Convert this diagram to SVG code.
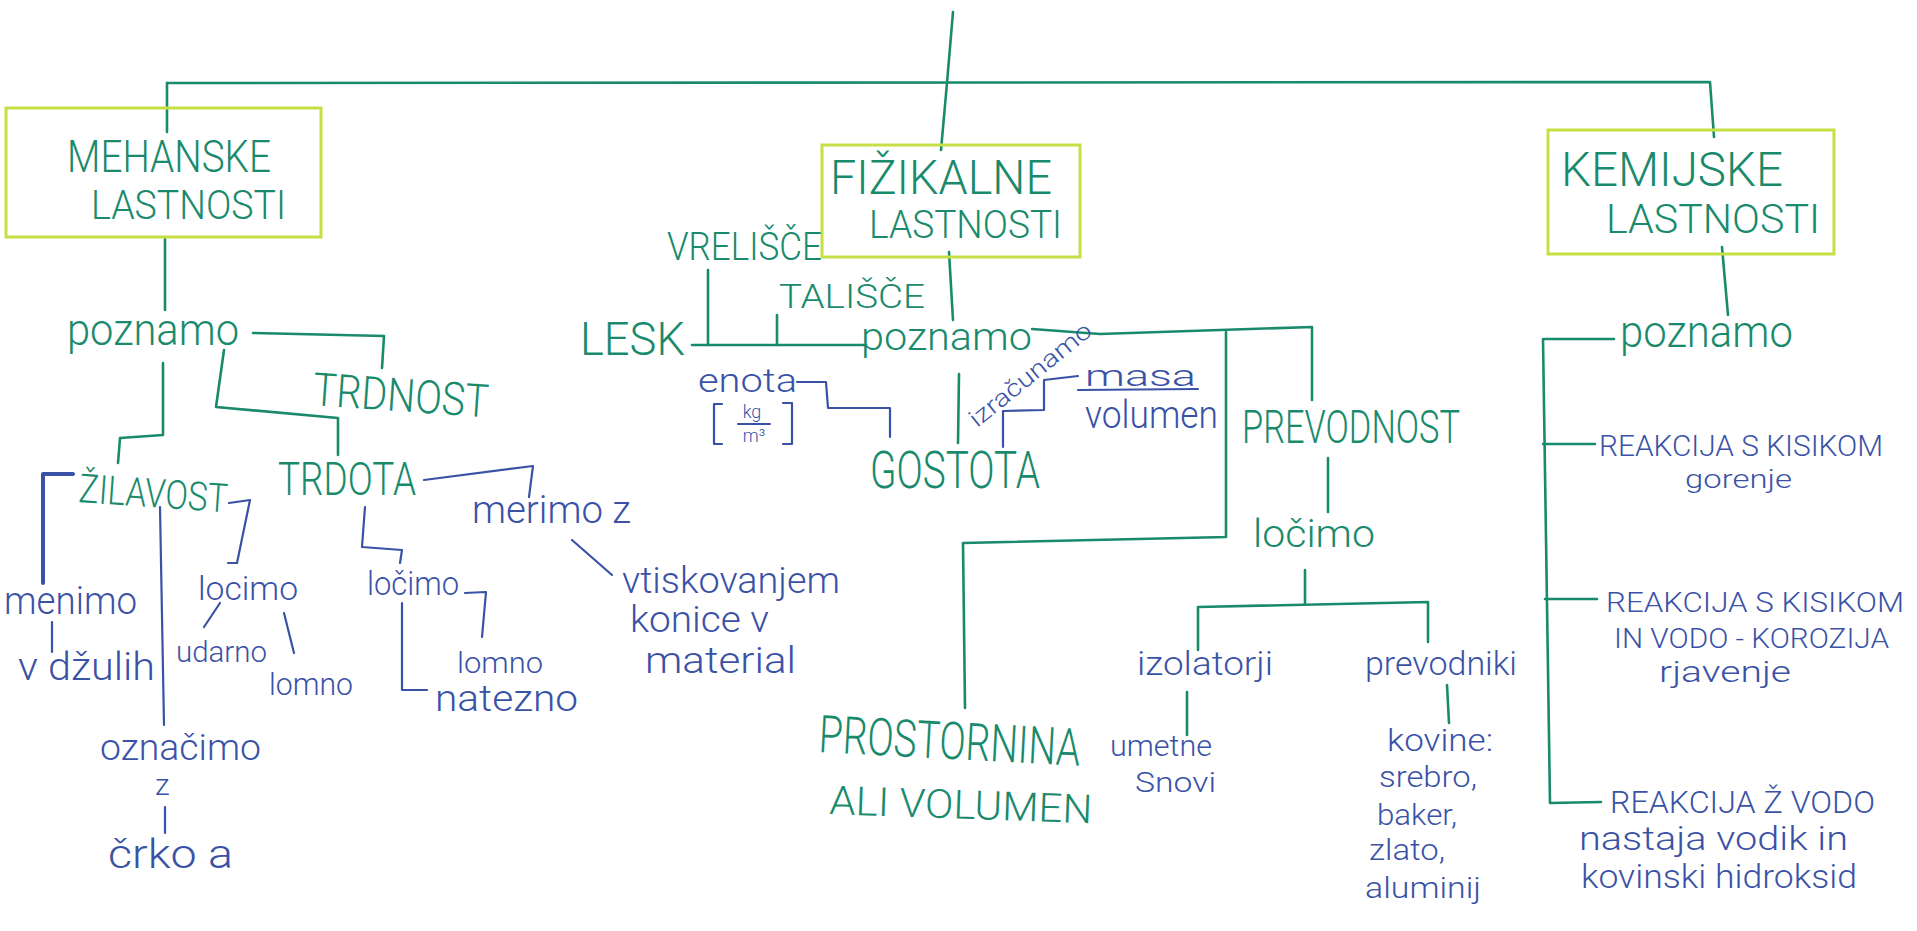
<svg xmlns="http://www.w3.org/2000/svg" width="1917" height="931" viewBox="0 0 1917 931">
<style>
.g{fill:#1a8a6c;font-family:Roboto,"Liberation Sans",sans-serif;font-weight:300}
.b{fill:#3a52a6;font-family:Roboto,"Liberation Sans",sans-serif;font-weight:300}
.box{fill:none;stroke:#c5df45;stroke-width:3}
.cg{fill:none;stroke:#1a8a6c;stroke-width:2.6;stroke-linejoin:round;stroke-linecap:round}
.cb{fill:none;stroke:#3a52a6;stroke-width:2.2;stroke-linejoin:round;stroke-linecap:round}
</style>
<rect width="1917" height="931" fill="#ffffff"/>
<g id="connectors">
<path class="cg" d="M953,12 L947,83 L941,150"/>
<path class="cg" d="M167,83 L1710,82 L1714,137"/>
<path class="cg" d="M167,83 L167,132"/>
<path class="cg" d="M165,237 L165,310"/>
<path class="cg" d="M253,333 L384,336 L382,368"/>
<path class="cg" d="M224,350 L216,407 L338,418 L338,455"/>
<path class="cg" d="M163,363 L163,435 L120,438 L118,463"/>
<path class="cg" d="M949,252 L953,320"/>
<path class="cg" d="M692,345 L866,345"/>
<path class="cg" d="M708,345 L708,270"/>
<path class="cg" d="M777,345 L777,315"/>
<path class="cg" d="M959,374 L958,443"/>
<path class="cg" d="M1032,329 L1100,334 L1312,327 L1312,400"/>
<path class="cg" d="M1226,332 L1226,537 L963,543 L965,708"/>
<path class="cg" d="M1328,458 L1328,512"/>
<path class="cg" d="M1305,570 L1305,604"/>
<path class="cg" d="M1198,650 L1198,607 L1428,602 L1428,642"/>
<path class="cg" d="M1187,692 L1187,735"/>
<path class="cg" d="M1447,685 L1449,723"/>
<path class="cg" d="M1722,247 L1728,315"/>
<path class="cg" d="M1614,339 L1543,339 L1550,803 L1601,802"/>
<path class="cg" d="M1543,444 L1595,444"/>
<path class="cg" d="M1545,599 L1597,599"/>
<path class="cb" d="M797,382 L826,382 L828,408 L890,408 L890,437"/>
<path class="cb" d="M1003,447 L1003,411 L1044,410 L1044,380 L1078,376"/>
<path class="cb" style="stroke-width:4" d="M73,474 L43,474 L43,583"/>
<path class="cb" d="M52,622 L52,652"/>
<path class="cb" d="M160,507 L164,725"/>
<path class="cb" d="M165,807 L165,833"/>
<path class="cb" d="M229,503 L250,500 L237,563 L228,563"/>
<path class="cb" d="M220,603 L204,627"/>
<path class="cb" d="M284,613 L294,653"/>
<path class="cb" d="M365,507 L362,547 L402,550 L400,563"/>
<path class="cb" d="M465,593 L486,592 L482,637"/>
<path class="cb" d="M402,603 L402,690 L427,690"/>
<path class="cb" d="M424,480 L533,466 L529,497"/>
<path class="cb" d="M572,540 L612,575"/>
</g>
<g id="mehanske">
<rect class="box" x="6" y="108" width="315" height="129"/>
<text class="g" x="67" y="172" font-size="44" textLength="204" lengthAdjust="spacingAndGlyphs">MEHANSKE</text>
<text class="g" x="91" y="219" font-size="40" textLength="195" lengthAdjust="spacingAndGlyphs">LASTNOSTI</text>
</g>
<g id="fizikalne">
<rect class="box" x="822" y="145" width="258" height="112"/>
<text class="g" x="830" y="194" font-size="48" textLength="222" lengthAdjust="spacingAndGlyphs">FIŽIKALNE</text>
<text class="g" x="869" y="238" font-size="38" textLength="193" lengthAdjust="spacingAndGlyphs">LASTNOSTI</text>
</g>
<g id="kemijske">
<rect class="box" x="1548" y="130" width="286" height="124"/>
<text class="g" x="1561" y="186" font-size="48" textLength="222" lengthAdjust="spacingAndGlyphs">KEMIJSKE</text>
<text class="g" x="1606" y="233" font-size="40" textLength="214" lengthAdjust="spacingAndGlyphs">LASTNOSTI</text>
</g>
<g id="poznamo-m"><text class="g" x="67" y="345" font-size="44" textLength="172" lengthAdjust="spacingAndGlyphs">poznamo</text></g>
<g id="trdnost"><text class="g" x="312" y="405" font-size="46" textLength="176" lengthAdjust="spacingAndGlyphs" transform="rotate(4 312 405)">TRDNOST</text></g>
<g id="zilavost"><text class="g" x="78" y="502" font-size="40" textLength="149" lengthAdjust="spacingAndGlyphs" transform="rotate(4 78 502)">ŽILAVOST</text></g>
<g id="trdota"><text class="g" x="278" y="495" font-size="46" textLength="138" lengthAdjust="spacingAndGlyphs">TRDOTA</text></g>
<g id="menimo"><text class="b" x="4" y="614" font-size="38" textLength="133" lengthAdjust="spacingAndGlyphs">menimo</text></g>
<g id="v-dzulih"><text class="b" x="18" y="680" font-size="38" textLength="137" lengthAdjust="spacingAndGlyphs">v džulih</text></g>
<g id="oznacimo"><text class="b" x="100" y="760" font-size="36" textLength="161" lengthAdjust="spacingAndGlyphs">označimo</text></g>
<g id="z"><text class="b" x="155" y="795" font-size="30">z</text></g>
<g id="crko"><text class="b" x="108" y="868" font-size="40" textLength="125" lengthAdjust="spacingAndGlyphs">črko a</text></g>
<g id="locimo-1"><text class="b" x="198" y="600" font-size="34" textLength="100" lengthAdjust="spacingAndGlyphs">locimo</text></g>
<g id="udarno"><text class="b" x="176" y="662" font-size="30" textLength="91" lengthAdjust="spacingAndGlyphs">udarno</text></g>
<g id="lomno-1"><text class="b" x="269" y="695" font-size="32" textLength="84" lengthAdjust="spacingAndGlyphs">lomno</text></g>
<g id="locimo-2"><text class="b" x="367" y="595" font-size="34" textLength="92" lengthAdjust="spacingAndGlyphs">ločimo</text></g>
<g id="lomno-2"><text class="b" x="457" y="673" font-size="30" textLength="86" lengthAdjust="spacingAndGlyphs">lomno</text></g>
<g id="natezno"><text class="b" x="435" y="711" font-size="36" textLength="143" lengthAdjust="spacingAndGlyphs">natezno</text></g>
<g id="merimo"><text class="b" x="472" y="523" font-size="38" textLength="159" lengthAdjust="spacingAndGlyphs">merimo z</text></g>
<g id="vtiskovanjem">
<text class="b" x="622" y="593" font-size="36" textLength="218" lengthAdjust="spacingAndGlyphs">vtiskovanjem</text>
<text class="b" x="630" y="632" font-size="36" textLength="139" lengthAdjust="spacingAndGlyphs">konice v</text>
<text class="b" x="645" y="673" font-size="36" textLength="151" lengthAdjust="spacingAndGlyphs">material</text>
</g>
<g id="vrelisce"><text class="g" x="667" y="260" font-size="38" textLength="155" lengthAdjust="spacingAndGlyphs">VRELIŠČE</text></g>
<g id="talisce"><text class="g" x="779" y="308" font-size="34" textLength="146" lengthAdjust="spacingAndGlyphs">TALIŠČE</text></g>
<g id="lesk"><text class="g" x="580" y="355" font-size="46" textLength="105" lengthAdjust="spacingAndGlyphs">LESK</text></g>
<g id="poznamo-f"><text class="g" x="861" y="350" font-size="38" textLength="171" lengthAdjust="spacingAndGlyphs">poznamo</text></g>
<g id="enota">
<text class="b" x="698" y="392" font-size="34" textLength="99" lengthAdjust="spacingAndGlyphs">enota</text>
<path class="cb" d="M722,404 L714,404 L714,444 L722,444 M783,403 L792,403 L792,444 L783,444 M738,424 L770,424"/>
<text class="b" x="752" y="418" font-size="18" text-anchor="middle">kg</text>
<text class="b" x="754" y="442" font-size="18" text-anchor="middle">m³</text>
</g>
<g id="gostota"><text class="g" x="870" y="488" font-size="52" textLength="170" lengthAdjust="spacingAndGlyphs">GOSTOTA</text></g>
<g id="izracunamo"><text class="b" font-size="24" textLength="150" lengthAdjust="spacingAndGlyphs" transform="translate(977,428) rotate(-39)">izračunamo</text></g>
<g id="masa-volumen">
<text class="b" x="1085" y="386" font-size="30" textLength="111" lengthAdjust="spacingAndGlyphs">masa</text>
<path class="cb" d="M1078,390 L1198,389"/>
<text class="b" x="1085" y="428" font-size="38" textLength="133" lengthAdjust="spacingAndGlyphs">volumen</text>
</g>
<g id="prostornina">
<text class="g" x="818" y="752" font-size="52" textLength="262" lengthAdjust="spacingAndGlyphs" transform="rotate(3 818 752)">PROSTORNINA</text>
<text class="g" x="829" y="814" font-size="40" textLength="263" lengthAdjust="spacingAndGlyphs" transform="rotate(2 829 814)">ALI VOLUMEN</text>
</g>
<g id="prevodnost"><text class="g" x="1242" y="443" font-size="46" textLength="218" lengthAdjust="spacingAndGlyphs">PREVODNOST</text></g>
<g id="locimo-3"><text class="g" x="1253" y="547" font-size="38" textLength="122" lengthAdjust="spacingAndGlyphs">ločimo</text></g>
<g id="izolatorji"><text class="b" x="1137" y="675" font-size="34" textLength="136" lengthAdjust="spacingAndGlyphs">izolatorji</text></g>
<g id="umetne">
<text class="b" x="1110" y="756" font-size="30" textLength="102" lengthAdjust="spacingAndGlyphs">umetne</text>
<text class="b" x="1135" y="792" font-size="28" textLength="81" lengthAdjust="spacingAndGlyphs">Snovi</text>
</g>
<g id="prevodniki"><text class="b" x="1365" y="675" font-size="34" textLength="152" lengthAdjust="spacingAndGlyphs">prevodniki</text></g>
<g id="kovine">
<text class="b" x="1387" y="751" font-size="32" textLength="106" lengthAdjust="spacingAndGlyphs">kovine:</text>
<text class="b" x="1379" y="787" font-size="30" textLength="98" lengthAdjust="spacingAndGlyphs">srebro,</text>
<text class="b" x="1377" y="825" font-size="30" textLength="80" lengthAdjust="spacingAndGlyphs">baker,</text>
<text class="b" x="1369" y="860" font-size="30" textLength="76" lengthAdjust="spacingAndGlyphs">zlato,</text>
<text class="b" x="1365" y="898" font-size="30" textLength="116" lengthAdjust="spacingAndGlyphs">aluminij</text>
</g>
<g id="poznamo-k"><text class="g" x="1620" y="347" font-size="44" textLength="173" lengthAdjust="spacingAndGlyphs">poznamo</text></g>
<g id="reakcija-1">
<text class="b" x="1599" y="456" font-size="30" textLength="284" lengthAdjust="spacingAndGlyphs">REAKCIJA S KISIKOM</text>
<text class="b" x="1685" y="488" font-size="26" textLength="107" lengthAdjust="spacingAndGlyphs">gorenje</text>
</g>
<g id="reakcija-2">
<text class="b" x="1606" y="612" font-size="28" textLength="298" lengthAdjust="spacingAndGlyphs">REAKCIJA S KISIKOM</text>
<text class="b" x="1614" y="648" font-size="28" textLength="275" lengthAdjust="spacingAndGlyphs">IN VODO - KOROZIJA</text>
<text class="b" x="1659" y="682" font-size="30" textLength="132" lengthAdjust="spacingAndGlyphs">rjavenje</text>
</g>
<g id="reakcija-3">
<text class="b" x="1610" y="813" font-size="32" textLength="265" lengthAdjust="spacingAndGlyphs">REAKCIJA Ž VODO</text>
<text class="b" x="1579" y="850" font-size="34" textLength="269" lengthAdjust="spacingAndGlyphs">nastaja vodik in</text>
<text class="b" x="1581" y="888" font-size="34" textLength="276" lengthAdjust="spacingAndGlyphs">kovinski hidroksid</text>
</g>
</svg>
